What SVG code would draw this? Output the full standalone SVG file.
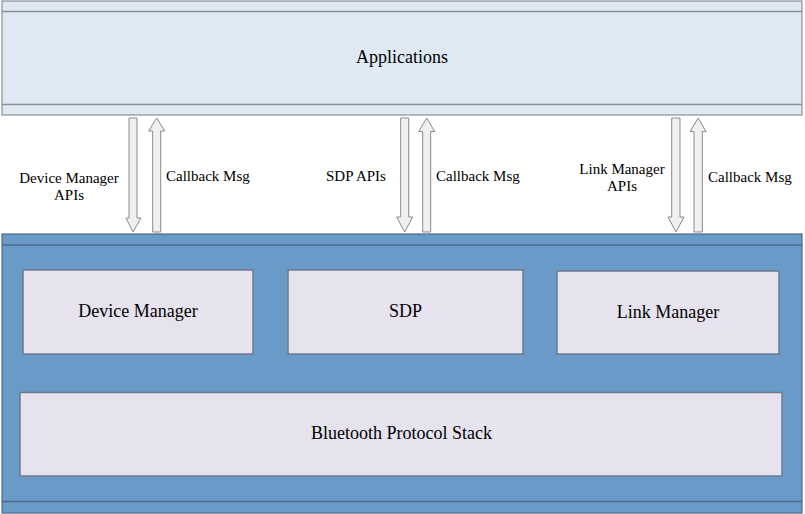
<svg xmlns="http://www.w3.org/2000/svg" width="805" height="514" viewBox="0 0 805 514">
<style>
text{font-family:"Liberation Serif","Times New Roman",serif;fill:#000}
.big{font-size:18px;text-anchor:middle}
.lbl{font-size:15px}
.mid{text-anchor:middle}
.app{fill:#dfe9f3;stroke:#8a8f96;stroke-width:1.2}
.appl{stroke:#8a8f96;stroke-width:1.5;fill:none}
.stack{fill:#6a9bc8;stroke:#4e6a88;stroke-width:1.2}
.stackl{stroke:#4e6a88;stroke-width:1.5;fill:none}
.mod{fill:#e6e3ef;stroke:#6e7a8c;stroke-width:1.5}
.arr{fill:#f0f0f0;stroke:#8a8a8a;stroke-width:1}
</style>
<rect width="805" height="514" fill="#ffffff"/>
<g id="applications">
<rect class="app" x="2" y="1" width="800" height="114"/>
<line class="appl" x1="2" y1="11.5" x2="802" y2="11.5"/>
<line class="appl" x1="2" y1="104.5" x2="802" y2="104.5"/>
<text class="big" x="402" y="63">Applications</text>
</g>
<g id="stack">
<rect class="stack" x="2" y="234" width="800" height="279"/>
<line class="stackl" x1="2" y1="245" x2="802" y2="245"/>
<line class="stackl" x1="2" y1="501.5" x2="802" y2="501.5"/>
</g>
<g id="device-manager">
<rect class="mod" x="23" y="270" width="230" height="84"/>
<text class="big" x="138" y="317">Device Manager</text>
</g>
<g id="sdp">
<rect class="mod" x="288" y="270" width="235" height="84"/>
<text class="big" x="405.5" y="317">SDP</text>
</g>
<g id="link-manager">
<rect class="mod" x="557" y="271" width="222" height="83"/>
<text class="big" x="668" y="318">Link Manager</text>
</g>
<g id="bluetooth-protocol-stack">
<rect class="mod" x="20" y="392.5" width="762" height="83.5"/>
<text class="big" x="401.5" y="439">Bluetooth Protocol Stack</text>
</g>
<g id="connectors">
<polygon class="arr" points="129,118 137,118 137,218 141,218 133,232 126,218 129,218"/>
<polygon class="arr" points="156.7,118 164.7,131 160.7,131 160.7,232 152.7,232 152.7,131 148.7,131"/>
<polygon class="arr" points="400.7,118 408.7,118 408.7,217 412.7,217 404.7,232 396.7,217 400.7,217"/>
<polygon class="arr" points="426.7,118 434.7,131.5 430.7,131.5 430.7,232 422.7,232 422.7,131.5 418.7,131.5"/>
<polygon class="arr" points="671.7,118 680,118 680,217 684,217 676,232 668,217 671.7,217"/>
<polygon class="arr" points="698.2,118 706,131.5 702.3,131.5 702.3,232 694,232 694,131.5 690,131.5"/>
<text class="lbl mid" x="69" y="183">Device Manager</text>
<text class="lbl mid" x="69" y="199.5">APIs</text>
<text class="lbl" x="166" y="181">Callback Msg</text>
<text class="lbl" x="326" y="181">SDP APIs</text>
<text class="lbl" x="436" y="181">Callback Msg</text>
<text class="lbl mid" x="622" y="173.5">Link Manager</text>
<text class="lbl mid" x="622" y="191">APIs</text>
<text class="lbl" x="708" y="182">Callback Msg</text>
</g>
</svg>
